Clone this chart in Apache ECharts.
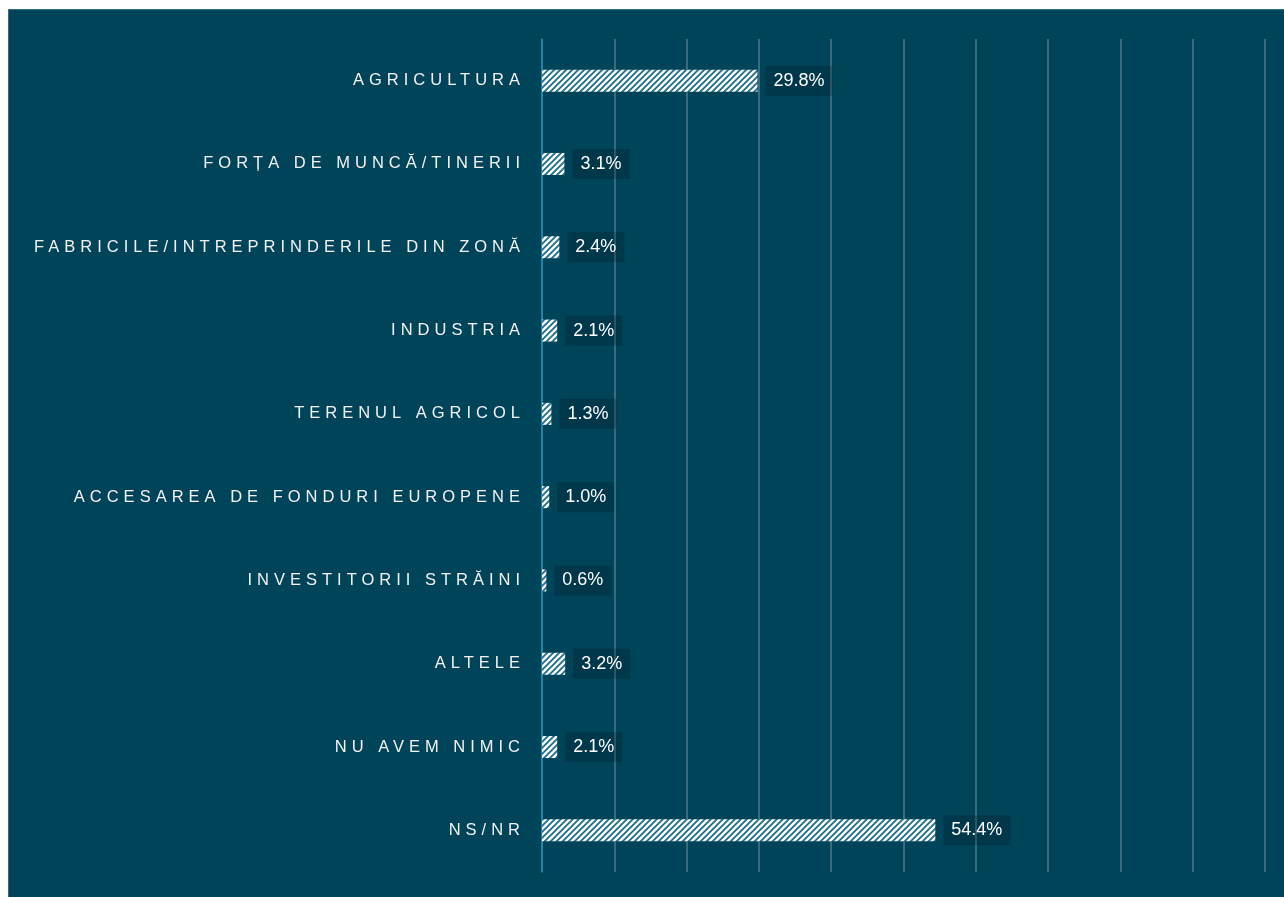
<!DOCTYPE html>
<html>
<head>
<meta charset="utf-8">
<script src="https://cdn.jsdelivr.net/npm/echarts@6/dist/echarts.min.js"></script>
<style>
  html, body { margin: 0; padding: 0; background: #ffffff; overflow: hidden; }
  #bg { position: absolute; left: 8px; top: 9px; width: 1276px; height: 888px;
        background: #00445a; border-top: 1px solid #2f6f84; border-left: 1px solid #2f6f84; box-sizing: border-box; }
  #chart { position: absolute; left: 0; top: 0; width: 1284px; height: 897px; }
</style>
</head>
<body>
<div id="bg"></div>
<div id="chart"></div>
<script>
// date din grafic
var categories = ['AGRICULTURA', 'FORȚA DE MUNCĂ/TINERII', 'FABRICILE/INTREPRINDERILE DIN ZONĂ', 'INDUSTRIA',
    'TERENUL AGRICOL', 'ACCESAREA DE FONDURI EUROPENE', 'INVESTITORII STRĂINI', 'ALTELE', 'NU AVEM NIMIC', 'NS/NR'];
var values = [29.8, 3.1, 2.4, 2.1, 1.3, 1.0, 0.6, 3.2, 2.1, 54.4];

// spatiere intre litere pentru etichetele de categorie (font 16.5px)
var proto = CanvasRenderingContext2D.prototype;
var origFill = proto.fillText;
proto.fillText = function (t, x, y, w) {
    if (this.font.indexOf('16.5px') >= 0) {
        this.letterSpacing = '5px';
        origFill.apply(this, arguments);
        this.letterSpacing = '0px';
        return;
    }
    return origFill.apply(this, arguments);
};

// textura hasurata pentru bare
var pat = document.createElement('canvas');
pat.width = 6; pat.height = 6;
var pc = pat.getContext('2d');
pc.fillStyle = '#ffffff';
pc.fillRect(0, 0, 6, 6);
pc.strokeStyle = '#1a6d8b';
pc.lineWidth = 1.8;
pc.beginPath();
pc.moveTo(-1, 7); pc.lineTo(7, -1);
pc.moveTo(-1, 1); pc.lineTo(1, -1);
pc.moveTo(5, 7); pc.lineTo(7, 5);
pc.stroke();

var chart = echarts.init(document.getElementById('chart'));
var option = {
    backgroundColor: 'transparent',
    animation: false,
    grid: { left: 542, right: 19, top: 39, bottom: 25 },
    xAxis: {
        type: 'value',
        min: 0,
        max: 100,
        interval: 10,
        axisLabel: { show: false },
        axisLine: { show: false },
        axisTick: { show: false },
        splitLine: { show: true, lineStyle: { color: '#4d7b8a', width: 1.5 } }
    },
    yAxis: {
        type: 'category',
        data: categories,
        inverse: true,
        axisTick: { show: false },
        axisLine: { show: true, lineStyle: { color: '#1a8db5', width: 1.5 } },
        axisLabel: {
            interval: 0,
            margin: 17,
            color: '#f2f2f2',
            fontSize: 16.5,
            fontFamily: 'Liberation Sans'
        }
    },
    series: [{
        type: 'bar',
        data: values,
        barWidth: 22,
        itemStyle: { color: { image: pat, repeat: 'repeat' } },
        label: {
            show: true,
            position: 'right',
            distance: 8,
            color: '#ffffff',
            fontSize: 18,
            fontFamily: 'Liberation Sans',
            backgroundColor: 'rgba(0, 20, 30, 0.25)',
            padding: [6, 8],
            formatter: function (p) { return p.value.toFixed(1) + '%'; }
        }
    }]
};
chart.setOption(option);
</script>
</body>
</html>
